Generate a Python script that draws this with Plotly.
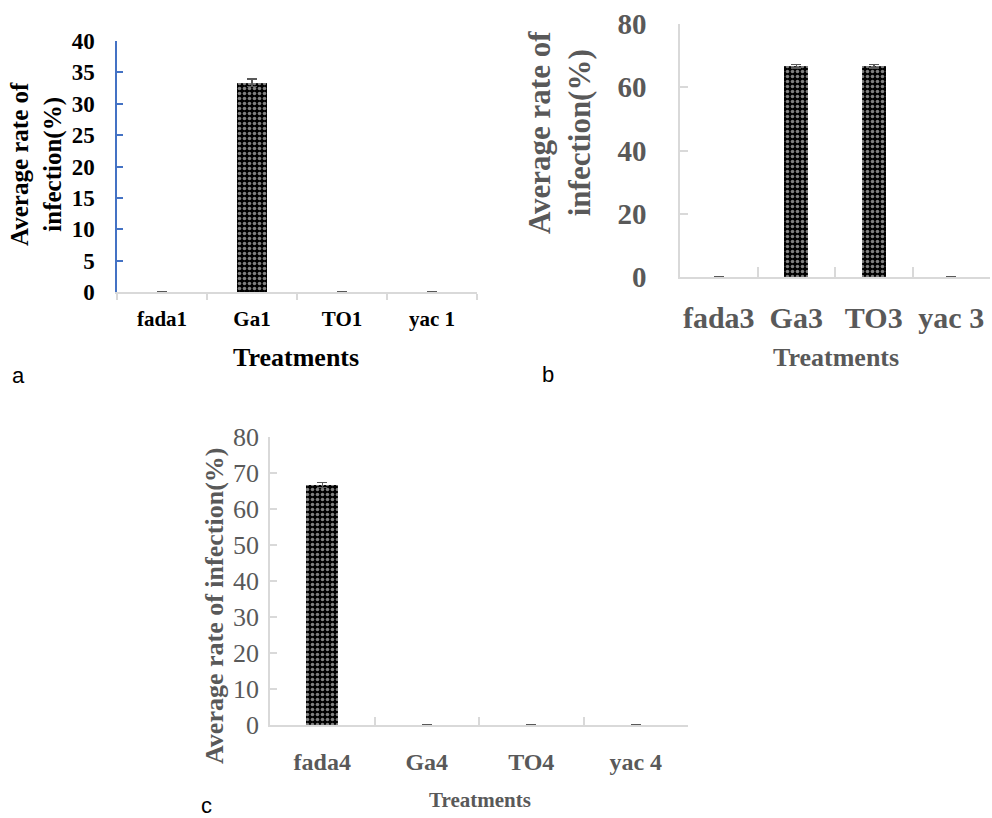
import plotly.graph_objects as go

# ---- data ----
cats_a = ["fada1", "Ga1", "TO1", "yac 1"]
vals_a = [0, 33.33, 0, 0]
err_a = [0, 0.6, 0, 0]

cats_b = ["fada3", "Ga3", "TO3", "yac 3"]
vals_b = [0, 66.67, 66.67, 0]
err_b = [0, 0.6, 0.6, 0]

cats_c = ["fada4", "Ga4", "TO4", "yac 4"]
vals_c = [66.67, 0, 0, 0]
err_c = [0.7, 0, 0, 0]

yticks_a = [0, 5, 10, 15, 20, 25, 30, 35, 40]
yticks_b = [0, 20, 40, 60, 80]
yticks_c = [0, 10, 20, 30, 40, 50, 60, 70, 80]

W, H = 992, 818
SERIF = "Liberation Serif, Times New Roman, serif"
GRAY = "#595959"
LIGHT = "#d9d9d9"
BLUE = "#4472C4"


def px_x(p):
    return p / W


def px_y(p):
    return 1 - p / H


pattern = dict(shape=".", fgcolor="white", bgcolor="black", size=5, solidity=0.4, fillmode="overlay")

fig = go.Figure()


def add_bar(cats, vals, errs, xa, ya, width):
    fig.add_trace(go.Bar(
        x=cats, y=vals, xaxis=xa, yaxis=ya, width=width,
        marker=dict(color="black", line=dict(width=0), pattern=pattern),
        error_y=dict(type="data", array=errs, visible=True, color=GRAY, thickness=1.5, width=5),
        showlegend=False,
    ))


add_bar(cats_a, vals_a, err_a, "x", "y", 0.333)
add_bar(cats_b, vals_b, err_b, "x2", "y2", 0.31)
add_bar(cats_c, vals_c, err_c, "x3", "y3", 0.306)

common_x = dict(type="category", showgrid=False, zeroline=False, showline=True,
                linecolor=LIGHT, linewidth=1.5, tickson="boundaries", tickcolor=LIGHT,
                tickwidth=1.5, fixedrange=True, automargin=False, tickangle=0)
common_y = dict(showgrid=False, zeroline=False, showline=True, linewidth=1.5,
                tickwidth=1.5, fixedrange=True, automargin=False)

fig.update_layout(
    width=W, height=H,
    margin=dict(l=0, r=0, t=0, b=0),
    paper_bgcolor="white", plot_bgcolor="white",
    bargap=0,
    xaxis=dict(common_x, domain=[px_x(117), px_x(477)], anchor="y",
               categoryarray=cats_a, ticks="outside", ticklen=6,
               tickfont=dict(family=SERIF, size=21, color="black", weight="bold"),
               ticklabelstandoff=7),
    yaxis=dict(common_y, domain=[px_y(292), px_y(41)], anchor="x", range=[0, 40],
               tickvals=yticks_a, linecolor=BLUE, tickcolor=BLUE, ticks="inside", ticklen=6,
               tickfont=dict(family=SERIF, size=23, color="black", weight="bold"),
               ticklabelstandoff=16),
    xaxis2=dict(common_x, domain=[px_x(680), px_x(990)], anchor="y2",
                categoryarray=cats_b, ticks="inside", ticklen=10,
                tickfont=dict(family=SERIF, size=30, color=GRAY, weight="bold"),
                ticklabelstandoff=13),
    yaxis2=dict(common_y, domain=[px_y(277), px_y(24)], anchor="x2", range=[0, 80],
                tickvals=yticks_b, linecolor=LIGHT, tickcolor=LIGHT, ticks="inside", ticklen=8,
                tickfont=dict(family=SERIF, size=29, color=GRAY, weight="bold"),
                ticklabelstandoff=26),
    xaxis3=dict(common_x, domain=[px_x(270), px_x(688)], anchor="y3",
                categoryarray=cats_c, ticks="inside", ticklen=8,
                tickfont=dict(family=SERIF, size=24, color=GRAY, weight="bold"),
                ticklabelstandoff=14),
    yaxis3=dict(common_y, domain=[px_y(725), px_y(437)], anchor="x3", range=[0, 80],
                tickvals=yticks_c, linecolor=LIGHT, tickcolor=LIGHT, ticks="inside", ticklen=7,
                tickfont=dict(family=SERIF, size=26, color=GRAY),
                ticklabelstandoff=4),
)


def ann(text, x, y, size, color, bold=True, angle=0, family=SERIF):
    fig.add_annotation(text=text, x=px_x(x), y=px_y(y), xref="paper", yref="paper",
                       showarrow=False, textangle=angle, xanchor="center", yanchor="middle",
                       font=dict(family=family, size=size, color=color, weight="bold" if bold else "normal"))


# axis titles
ann("Average rate of<br>infection(%)", 36, 164, 25, "black", angle=-90)
ann("Treatments", 296, 357, 26, "black")
ann("Average rate of<br>infection(%)", 559, 133, 31, GRAY, angle=-90)
ann("Treatments", 836, 357, 26, GRAY)
ann("Average rate of infection(%)", 214, 606, 26, GRAY, angle=-90)
ann("Treatments", 480, 800, 21, GRAY)

# panel labels
SANS = "Liberation Sans, Arial, sans-serif"
ann("a", 18, 375, 22, "black", bold=False, family=SANS)
ann("b", 548, 374, 22, "black", bold=False, family=SANS)
ann("c", 206, 805, 22, "black", bold=False, family=SANS)

fig.write_html("out.html", config={"displayModeBar": False},
               post_script="document.body.style.margin='0';document.body.style.overflow='hidden';")
